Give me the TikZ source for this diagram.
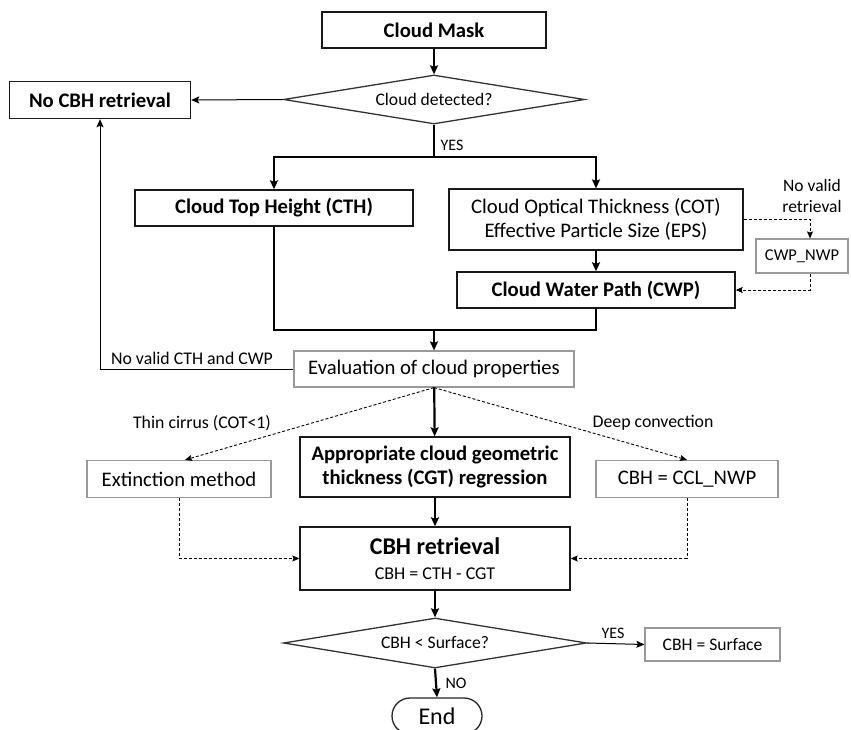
\documentclass[tikz,border=0pt]{standalone}
\usepackage{fontspec}
\setmainfont{Carlito}
\usetikzlibrary{arrows.meta,shapes.geometric,shapes.misc}
\newcommand\fsz[1]{\fontsize{#1}{#1}\selectfont}
\begin{document}
\begin{tikzpicture}[x=1pt,y=-1pt,
  box/.style={draw=black!90,line width=1.4pt,inner sep=0pt,align=center,font=\fsz{20.7}},
  gbox/.style={draw=black!40,line width=1.2pt,inner sep=0pt,align=center,font=\fsz{20.7}},
  dia/.style={draw=black!80,line width=1.3pt,shape=diamond,aspect=6,inner sep=0pt,font=\fsz{17.6}},
  thk/.style={line width=2.2pt,-{Stealth[length=9pt,width=8pt,inset=1.5pt]}},
  thkline/.style={line width=2.2pt},
  thn/.style={line width=1pt,-{Stealth[length=8pt,width=7pt,inset=1.5pt]}},
  dsh/.style={line width=0.9pt,dash pattern=on 3pt off 2pt,-{Stealth[length=7pt,width=6pt,inset=1.2pt]}},
  lbl/.style={inner sep=0pt,font=\fsz{17.8}}
]
\useasboundingbox[fill=white] (0,0) rectangle (851,730);

% nodes
\node[box,minimum width=224,minimum height=36,font=\fsz{20.7}\bfseries] (mask) at (434,30) {Cloud Mask};
\node[dia,minimum width=301,minimum height=49] (d1) at (434,99.5) {Cloud detected?};
\node[box,minimum width=181,minimum height=37,font=\fsz{20.7}\bfseries] (nocbh) at (100,100) {No CBH retrieval};
\node[box,minimum width=278,minimum height=36,font=\fsz{20.7}\bfseries] (cth) at (274,208) {Cloud Top Height (CTH)};
\node[box,minimum width=294,minimum height=61,line width=1.2pt] (cot) at (596,219.5) {Cloud Optical Thickness (COT)\\[4pt]Effective Particle Size (EPS)};
\node[gbox,minimum width=92,minimum height=34,font=\fsz{16.5}] (nwp) at (802,256) {CWP\_NWP};
\node[box,minimum width=278,minimum height=36,font=\fsz{20.7}\bfseries] (cwp) at (596,290) {Cloud Water Path (CWP)};
\node[gbox,minimum width=280,minimum height=36] (eval) at (434,369) {Evaluation of cloud properties};
\node[gbox,minimum width=184,minimum height=37] (ext) at (179,479) {Extinction method};
\node[box,minimum width=270,minimum height=60,font=\fsz{20.7}\bfseries] (cgt) at (435,467) {Appropriate cloud geometric\\[4pt]thickness (CGT) regression};
\node[gbox,minimum width=182,minimum height=37] (ccl) at (687,479) {CBH = CCL\_NWP};
\node[box,minimum width=270,minimum height=63] (cbh) at (435,558.5) {{\fsz{24}\bfseries CBH retrieval}\\[4pt]{\fsz{18}CBH = CTH - CGT}};
\node[dia,minimum width=303,minimum height=50] (d2) at (435,643) {CBH {\textless} Surface?};
\node[gbox,minimum width=135,minimum height=33,font=\fsz{17.6}] (surf) at (712.5,644.5) {CBH = Surface};
\node[draw=black!85,line width=1.3pt,shape=rounded rectangle,minimum width=90,minimum height=36,inner sep=0pt,font=\fsz{24}] (endn) at (437,716) {End};

% labels
\node[lbl,font=\fsz{16}] (yes1) at (452,145) {YES};
\node[lbl,align=center,font=\fsz{17.5}] (nvr) at (812,196) {No valid\\[3pt]retrieval};
\node[lbl] (nvc) at (192,358) {No valid CTH and CWP};
\node[lbl] (thin) at (202,423) {Thin cirrus (COT{\textless}1)};
\node[lbl] (deep) at (653,423) {Deep convection};
\node[lbl,font=\fsz{16}] (yes2) at (613,633) {YES};
\node[lbl,font=\fsz{16}] (no) at (456,683) {NO};

\coordinate (bar) at (434,157);
\coordinate (merge) at (434,330);

% connectors
\draw[thk] (mask) -- (d1);
\draw[thn] (d1.west) -- (nocbh.east);
\draw[thkline] (d1.south) -- (bar);
\draw[thk] (bar) -| (cth.north);
\draw[thk] (bar) -| (cot.north);
\draw[dsh] (cot.east) -| ([xshift=8pt]nwp.north);
\draw[dsh] ([xshift=8pt]nwp.south) |- (cwp.east);
\draw[thk] (cot) -- (cwp);
\draw[thkline] (cth.south) |- (merge);
\draw[thkline] (cwp.south) |- (merge);
\draw[thk] (merge) -- (eval.north);
\draw[thn] (eval.west) -| (nocbh.south);
\draw[dsh] (eval.south) -- ([xshift=6pt]ext.north);
\draw[dsh] (eval.south) -- (ccl.north);
\draw[thk] (eval) -- (cgt);
\draw[thk] (cgt) -- (cbh);
\draw[dsh] (ext.south) |- (cbh.west);
\draw[dsh] (ccl.south) |- (cbh.east);
\draw[thk] (cbh) -- (d2);
\draw[thn] (d2.east) -- (surf.west);
\draw[thk] (d2.south) -- (endn.north);
\end{tikzpicture}
\end{document}
